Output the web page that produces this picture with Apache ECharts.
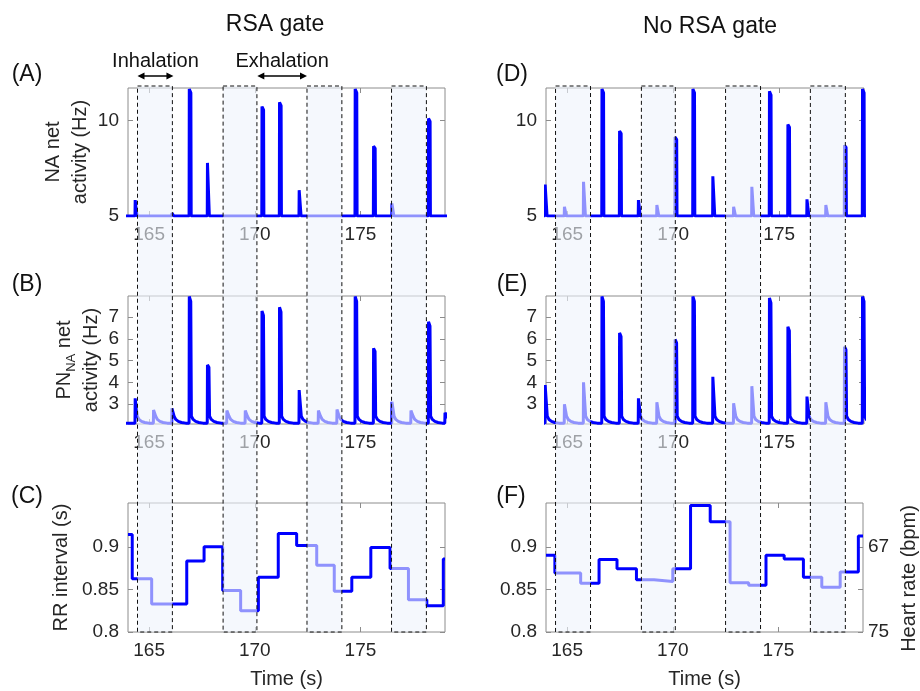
<!DOCTYPE html>
<html><head><meta charset="utf-8">
<script src="https://cdn.jsdelivr.net/npm/echarts@6/dist/echarts.min.js"></script>
<style>html,body{margin:0;padding:0;background:#fff}#c{width:920px;height:691px}</style>
</head><body><div id="c"></div>
<script>
// ---------- data ----------
const timeTicks = [165, 170, 175];
const naTicks = [5, 10];
const pnTicks = [3, 4, 5, 6, 7];
const rrTicks = [0.8, 0.85, 0.9];
const hrTickRR = [0.8, 0.85, 0.9];
const hrLabelRR = [0.8, 0.9];

const bandStart = [164.45, 168.5, 172.47, 176.47];
const bandEnd   = [166.1, 170.1, 174.12, 178.12];
const phaseLabels = ['Inhalation', 'Exhalation'];
const phaseStart = [164.45, 170.12];
const phaseEnd   = [166.15, 172.47];

// RSA gate (left column)
const beatTimesL = [164.33, 165.2, 166.07, 166.89, 167.75, 168.67, 169.54, 170.33, 171.16, 172.09, 173.0, 173.88, 174.74, 175.61, 176.48, 177.38, 178.21, 178.99];
const naPeaksL   = [5.83, 5.0, 5.15, 11.65, 7.78, 5.0, 5.0, 10.73, 10.95, 6.35, 5.0, 5.0, 11.65, 8.65, 5.66, 5.0, 10.1, 5.0];
const pnPeaksL   = [3.26, 2.72, 2.8, 7.95, 4.8, 2.7, 2.7, 7.28, 7.45, 3.64, 2.7, 2.75, 7.95, 5.56, 3.1, 2.7, 6.78, 2.6];
const rrTimesL = [164, 164.2, 165.12, 166.78, 167.6, 168.48, 169.33, 170.17, 171.11, 171.98, 172.93, 173.76, 174.59, 175.49, 176.4, 177.27, 178.14, 178.92, 179];
const rrValsL  = [0.915, 0.8627, 0.833, 0.8837, 0.9004, 0.849, 0.825, 0.8646, 0.916, 0.902, 0.8786, 0.848, 0.8646, 0.8996, 0.8747, 0.838, 0.831, 0.886, 0.886];

// No RSA gate (right column)
const beatTimesR = [163.95, 164.86, 165.76, 166.63, 167.46, 168.35, 169.22, 170.08, 170.92, 171.86, 172.84, 173.7, 174.53, 175.4, 176.3, 177.19, 178.07, 178.92];
const naPeaksR   = [6.65, 5.48, 6.79, 11.65, 9.45, 5.83, 5.57, 9.13, 11.65, 7.08, 5.48, 6.53, 11.53, 9.79, 5.87, 5.57, 8.7, 11.65];
const pnPeaksR   = [3.87, 2.99, 4.0, 7.95, 6.27, 3.26, 3.08, 5.97, 7.95, 4.25, 3.03, 3.82, 7.88, 6.55, 3.34, 3.08, 5.64, 7.95];
const rrTimesR = [164, 164.42, 165.64, 166.51, 167.36, 168.28, 169.11, 170.0, 170.84, 171.77, 172.71, 173.59, 174.41, 175.27, 176.18, 177.05, 177.92, 178.78, 179];
const rrValsR  = [0.8905, 0.8694, 0.8575, 0.8853, 0.8746, 0.8615, 0.8595, 0.8746, 0.949, 0.9298, 0.858, 0.855, 0.8905, 0.886, 0.8646, 0.8528, 0.8706, 0.913, 0.913];

// ---------- helpers ----------
const NA_BASE = 5, PN_BASE = 2.12;
function naTrace(times, peaks) {
  const pts = [[163.5, NA_BASE]];
  times.forEach((t, i) => {
    const p = peaks[i];
    pts.push([t, NA_BASE], [t + 0.01, p], [t + 0.085, NA_BASE + (p - NA_BASE) * 0.97], [t + 0.1, NA_BASE]);
  });
  pts.push([180, NA_BASE]);
  return pts;
}
function pnTrace(times, peaks) {
  const pts = [[163.5, PN_BASE]];
  times.forEach((t, i) => {
    const p = peaks[i];
    pts.push([t, PN_BASE], [t + 0.01, p], [t + 0.08, PN_BASE + (p - PN_BASE) * 0.96],
      [t + 0.11, PN_BASE + 0.32], [t + 0.19, PN_BASE + 0.17], [t + 0.31, PN_BASE + 0.08],
      [t + 0.46, PN_BASE + 0.03], [t + 0.66, PN_BASE]);
  });
  pts.push([180, PN_BASE]);
  return pts;
}
const zip = (a, b) => a.map((v, i) => [v, b[i]]);

const FONT = '"Liberation Sans", Arial, sans-serif';
const TXT = '#262626';
const BORDER = '#8c8c8c';
const BLUE = '#0000ff';
const X0 = 164, X1 = 179;

const cols = [{left: 128, right: 475}, {left: 546, right: 56}];
const rows = [{top: 88, h: 128, min: 5, max: 11.7, ticks: naTicks},
              {top: 296, h: 128, min: 2.08, max: 7.97, ticks: pnTicks},
              {top: 503, h: 129, min: 0.8, max: 0.952, ticks: rrTicks}];

const grids = [], xAxes = [], yAxes = [];
const yNames = [
  {name: 'NA net\nactivity (Hz)', gap: 27},
  {name: '{n|PN}{s|NA}{n| net}\n{n|activity (Hz)}', gap: 23},
  {name: 'RR interval (s)', gap: 53}
];
cols.forEach((c, ci) => rows.forEach((r, ri) => {
  grids.push({left: c.left, right: c.right, top: r.top, height: r.h, show: true, borderColor: BORDER, borderWidth: 1, backgroundColor: 'transparent'});
}));
// bottom x axes
grids.forEach((g, gi) => {
  const ri = gi % 3;
  xAxes.push({
    gridIndex: gi, type: 'value', min: X0, max: X1, position: 'bottom',
    axisLine: {show: false}, splitLine: {show: false},
    axisTick: {show: true, inside: true, length: 5, customValues: timeTicks, lineStyle: {color: BORDER}},
    axisLabel: {show: true, customValues: timeTicks, color: TXT, fontSize: 19, fontFamily: FONT, margin: 9},
    name: ri === 2 ? 'Time (s)' : '', nameLocation: 'middle', nameGap: 37,
    nameTextStyle: {color: TXT, fontSize: 20, fontFamily: FONT}
  });
});
// top x axes (ticks only)
grids.forEach((g, gi) => {
  xAxes.push({
    gridIndex: gi, type: 'value', min: X0, max: X1, position: 'top',
    axisLine: {show: false}, splitLine: {show: false}, axisLabel: {show: false},
    axisTick: {show: true, inside: true, length: 5, customValues: timeTicks, lineStyle: {color: BORDER}}
  });
});
// left y axes
grids.forEach((g, gi) => {
  const ri = gi % 3, ci = Math.floor(gi / 3), r = rows[ri];
  const fmt = ri === 2 ? (v => String(+v.toFixed(2))) : (v => String(v));
  const ax = {
    gridIndex: gi, type: 'value', min: r.min, max: r.max, position: 'left',
    axisLine: {show: false}, splitLine: {show: false},
    axisTick: {show: true, inside: true, length: 5, customValues: r.ticks, lineStyle: {color: BORDER}},
    axisLabel: {show: true, customValues: r.ticks, color: TXT, fontSize: 19, fontFamily: FONT, margin: 9, formatter: fmt}
  };
  if (ci === 0) {
    ax.name = yNames[ri].name; ax.nameLocation = 'middle'; ax.nameGap = yNames[ri].gap;
    ax.nameTextStyle = {color: TXT, fontSize: 20, fontFamily: FONT, lineHeight: 27,
      rich: {n: {color: TXT, fontSize: 20, fontFamily: FONT, lineHeight: 27},
             s: {color: TXT, fontSize: 13, fontFamily: FONT, lineHeight: 13, verticalAlign: 'bottom'}}};
  }
  yAxes.push(ax);
});
// right y axes (ticks only, F has heart-rate labels)
grids.forEach((g, gi) => {
  const ri = gi % 3, r = rows[ri];
  const isF = gi === 5;
  const ax = {
    gridIndex: gi, type: 'value', min: r.min, max: r.max, position: 'right',
    axisLine: {show: false}, splitLine: {show: false},
    axisTick: {show: true, inside: true, length: 5, customValues: isF ? hrTickRR : r.ticks, lineStyle: {color: BORDER}},
    axisLabel: {show: isF, customValues: hrLabelRR, color: TXT, fontSize: 19, fontFamily: FONT, margin: 5,
      formatter: v => String(Math.round(60 / v))}
  };
  if (isF) {
    ax.name = 'Heart rate (bpm)'; ax.nameLocation = 'middle'; ax.nameGap = 36;
    ax.nameTextStyle = {color: TXT, fontSize: 20, fontFamily: FONT, padding: [0, 22, 0, 0]};
  }
  yAxes.push(ax);
});
// overlay grids for the respiratory bands
cols.forEach((c, ci) => {
  grids.push({left: c.left, right: c.right, top: 86, bottom: 59, show: false});
  xAxes.push({gridIndex: 6 + ci, type: 'value', min: X0, max: X1, show: false});
  yAxes.push({gridIndex: 6 + ci, type: 'value', min: 0, max: 1, show: false});
});

const lineSeries = (gi, data, step) => ({
  type: 'line', xAxisIndex: gi, yAxisIndex: gi, data: data, showSymbol: false, symbol: 'none',
  step: step || false, clip: true, z: 3, animation: false,
  lineStyle: {color: BLUE, width: 3}, itemStyle: {color: BLUE}
});

const bandData = zip(bandStart, bandEnd);
function bandItem(params, api) {
  const a = api.coord([api.value(0), 1]);
  const b = api.coord([api.value(1), 0]);
  return {type: 'rect', shape: {x: a[0], y: a[1], width: b[0] - a[0], height: b[1] - a[1]},
    style: {fill: 'rgba(238,243,252,0.6)', stroke: '#111', lineWidth: 1, lineDash: [4, 3]}};
}
function arrowItem(params, api) {
  const a = api.coord([api.value(0), 1]);
  const b = api.coord([api.value(1), 1]);
  const y = a[1] - 10, h = 7, w = 3.5;
  return {type: 'group', children: [
    {type: 'line', shape: {x1: a[0] + 3, y1: y, x2: b[0] - 3, y2: y}, style: {stroke: '#000', lineWidth: 1.5}},
    {type: 'polygon', shape: {points: [[a[0], y], [a[0] + h, y - w], [a[0] + h, y + w]]}, style: {fill: '#000'}},
    {type: 'polygon', shape: {points: [[b[0], y], [b[0] - h, y - w], [b[0] - h, y + w]]}, style: {fill: '#000'}},
    {type: 'text', x: (a[0] + b[0]) / 2, y: y - 15, style: {text: phaseLabels[params.dataIndex], font: '20px ' + FONT, fill: '#111', align: 'center', verticalAlign: 'middle'}}
  ]};
}

const series = [
  lineSeries(0, naTrace(beatTimesL, naPeaksL)),
  lineSeries(1, pnTrace(beatTimesL, pnPeaksL)),
  lineSeries(2, zip(rrTimesL, rrValsL), 'end'),
  lineSeries(3, naTrace(beatTimesR, naPeaksR)),
  lineSeries(4, pnTrace(beatTimesR, pnPeaksR)),
  lineSeries(5, zip(rrTimesR, rrValsR), 'end'),
  {type: 'custom', xAxisIndex: 12, yAxisIndex: 12, data: bandData, renderItem: bandItem, z: 10, silent: true, animation: false, clip: false},
  {type: 'custom', xAxisIndex: 13, yAxisIndex: 13, data: bandData, renderItem: bandItem, z: 10, silent: true, animation: false, clip: false},
  {type: 'custom', xAxisIndex: 12, yAxisIndex: 12, data: zip(phaseStart, phaseEnd), renderItem: arrowItem, z: 11, silent: true, animation: false, clip: false}
];

const T = (text, x, y, size) => ({type: 'text', x: x, y: y, style: {text: text, font: size + 'px ' + FONT, fill: '#111', align: 'center', verticalAlign: 'middle'}});
const graphic = [
  T('RSA gate', 275, 25, 23), T('No RSA gate', 710, 27, 23),
  T('(A)', 27, 75, 23), T('(B)', 27, 285, 23), T('(C)', 27, 497, 23),
  T('(D)', 512, 75, 23), T('(E)', 512, 285, 23), T('(F)', 511, 497, 23)
];

const chart = echarts.init(document.getElementById('c'), null, {renderer: 'canvas'});
chart.setOption({animation: false, backgroundColor: '#fff', grid: grids, xAxis: xAxes, yAxis: yAxes, series: series, graphic: graphic});
</script></body></html>
